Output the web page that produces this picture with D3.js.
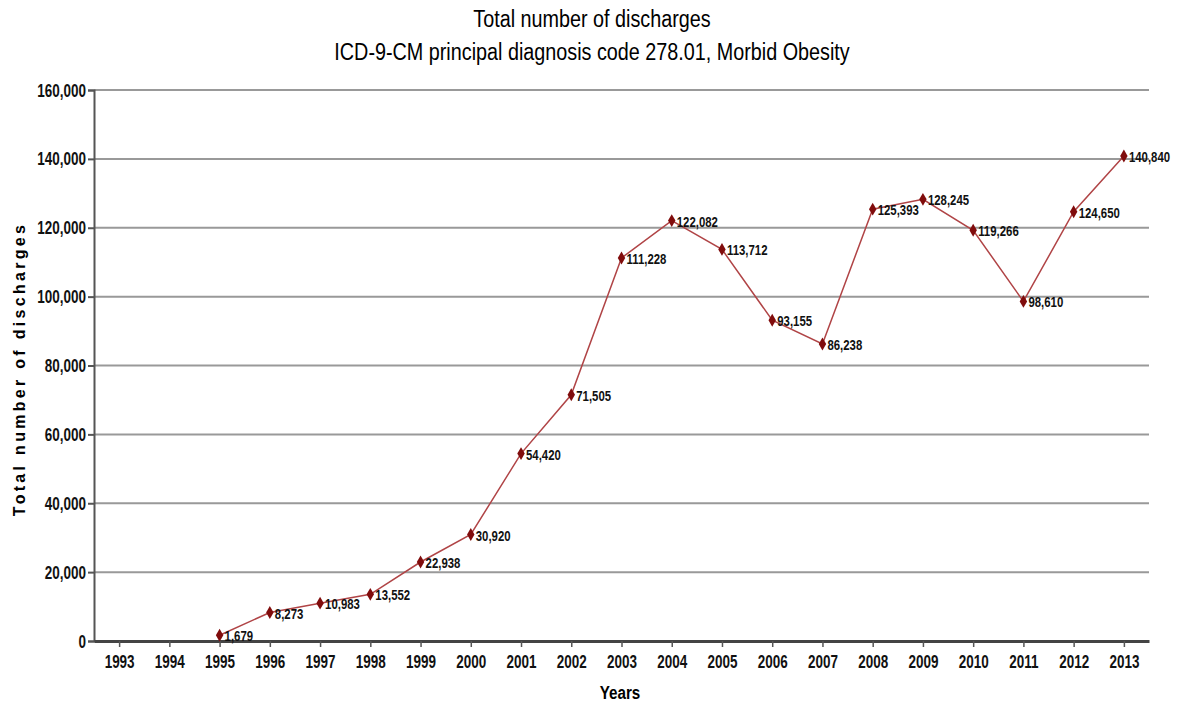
<!DOCTYPE html>
<html>
<head>
<meta charset="utf-8">
<script src="https://cdn.jsdelivr.net/npm/d3@7"></script>
<style>
body{margin:0;background:#fff}
text{font-family:"Liberation Sans",Arial,sans-serif}
</style>
</head>
<body>
<script>
const years=["1993","1994","1995","1996","1997","1998","1999","2000","2001","2002","2003","2004","2005","2006","2007","2008","2009","2010","2011","2012","2013"]
const dataYears=["1995","1996","1997","1998","1999","2000","2001","2002","2003","2004","2005","2006","2007","2008","2009","2010","2011","2012","2013"]
const discharges=[1679,8273,10983,13552,22938,30920,54420,71505,111228,122082,113712,93155,86238,125393,128245,119266,98610,124650,140840]
const yTicks=[0,20000,40000,60000,80000,100000,120000,140000,160000]

const data=dataYears.map((y,i)=>({year:y,value:discharges[i]}))

const svg=d3.select("body")
            .append("svg")
            .attr("width",1186)
            .attr("height",710)

const plotLeft=94, plotRight=1149, plotTop=90, plotBottom=641
const squeeze=0.71   // the source used a condensed face

const x=d3.scalePoint()
          .domain(years)
          .range([plotLeft,plotRight])
          .padding(0.5)

const y=d3.scaleLinear()
          .domain([0,160000])
          .range([plotBottom,plotTop])

// grid lines
svg.append("g")
   .selectAll("line")
   .data(yTicks.slice(1))
   .enter()
   .append("line")
   .attr("x1",plotLeft)
   .attr("x2",plotRight)
   .attr("y1",d=>y(d))
   .attr("y2",d=>y(d))
   .attr("stroke","#999")
   .attr("stroke-width",2)

// y axis
const yAxis=svg.append("g")
   .attr("transform",`translate(${plotLeft},0)`)
   .call(d3.axisLeft(y).tickValues(yTicks).tickFormat(d3.format(",")).tickSize(6).tickPadding(2))
yAxis.select(".domain").attr("stroke","#555").attr("stroke-width",2)
yAxis.selectAll(".tick line").attr("stroke","#555").attr("stroke-width",2)
yAxis.selectAll("text")
     .attr("font-size","19px").attr("font-weight","bold").attr("fill","#111")
     .attr("x",-8/squeeze)
     .attr("transform",`scale(${squeeze},1)`)

// x axis
const xAxis=svg.append("g")
   .attr("transform",`translate(0,${plotBottom})`)
   .call(d3.axisBottom(x).tickSize(6).tickPadding(8).tickSizeOuter(0))
xAxis.select(".domain").attr("stroke","#444").attr("stroke-width",3)
xAxis.selectAll(".tick line").attr("stroke","#555").attr("stroke-width",1.5)
xAxis.selectAll("text")
     .attr("font-size","19px").attr("font-weight","bold").attr("fill","#111")
     .attr("transform",`scale(${squeeze},1)`)

// line
svg.append("path")
   .datum(data)
   .attr("fill","none")
   .attr("stroke","#b04446")
   .attr("stroke-width",1.5)
   .attr("d",d3.line().x(d=>x(d.year)).y(d=>y(d.value)))

// markers
svg.append("g")
   .selectAll("path")
   .data(data)
   .enter()
   .append("path")
   .attr("transform",d=>`translate(${x(d.year)},${y(d.value)})`)
   .attr("d",d3.symbol(d3.symbolDiamond,48))
   .attr("fill","#800c0c")

// value labels
svg.append("g")
   .selectAll("text")
   .data(data)
   .enter()
   .append("text")
   .attr("transform",d=>`translate(${x(d.year)+5},${y(d.value)+6}) scale(0.76,1)`)
   .text(d=>d3.format(",")(d.value))
   .attr("font-size","15px")
   .attr("font-weight","bold")
   .attr("fill","#111")

// titles
svg.append("text")
   .attr("transform","translate(592,27) scale(0.86,1)")
   .attr("text-anchor","middle")
   .attr("font-size","23px")
   .text("Total number of discharges")

svg.append("text")
   .attr("transform","translate(592,60) scale(0.86,1)")
   .attr("text-anchor","middle")
   .attr("font-size","23px")
   .text("ICD-9-CM principal diagnosis code 278.01, Morbid Obesity")

svg.append("text")
   .attr("transform","translate(620,699) scale(0.8,1)")
   .attr("text-anchor","middle")
   .attr("font-size","19px")
   .attr("font-weight","bold")
   .text("Years")

svg.append("text")
   .attr("transform","translate(25,369) rotate(-90)")
   .attr("text-anchor","middle")
   .attr("font-size","16px")
   .attr("font-weight","bold")
   .attr("letter-spacing","3.3px")
   .text("Total number of discharges")
</script>
</body>
</html>
